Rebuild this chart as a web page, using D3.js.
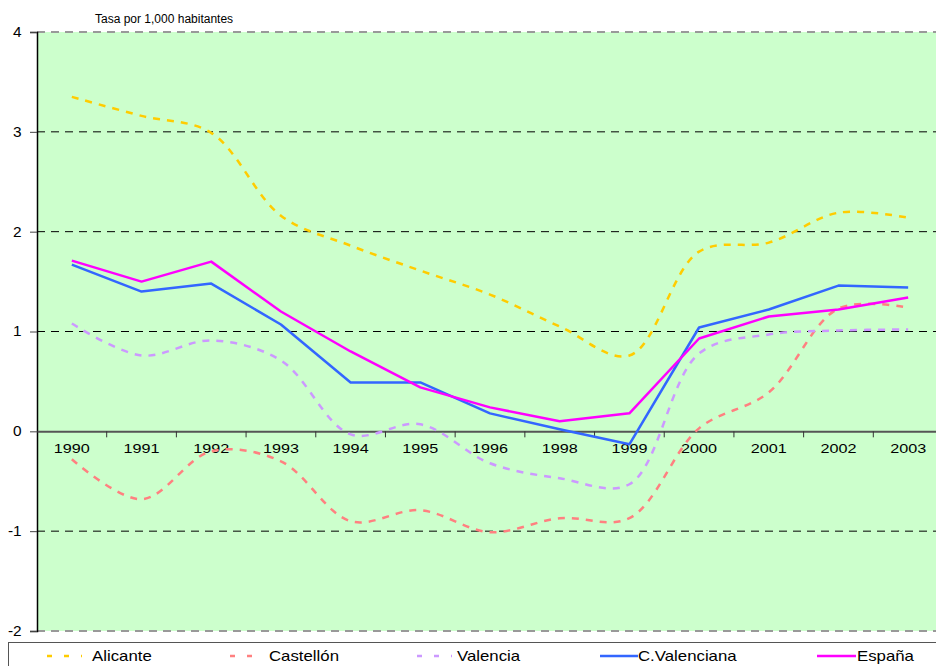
<!DOCTYPE html>
<html><head><meta charset="utf-8">
<script src="https://cdn.jsdelivr.net/npm/d3@7/dist/d3.min.js"></script>
<style>body{margin:0;background:#fff;}svg{display:block;font-family:"Liberation Sans",Arial,sans-serif;}</style>
</head><body>
<svg id="c" width="936" height="666"></svg>
<script>
const years = ["1990","1991","1992","1993","1994","1995","1996","1998","1999","2000","2001","2002","2003"];
const alicante = [3.35,3.16,2.99,2.16,1.86,1.61,1.37,1.05,0.76,1.80,1.89,2.19,2.14];
const castellon = [-0.28,-0.68,-0.20,-0.30,-0.90,-0.79,-1.01,-0.87,-0.87,0.03,0.39,1.23,1.24];
const valencia = [1.08,0.76,0.91,0.71,-0.03,0.07,-0.32,-0.47,-0.53,0.78,0.97,1.01,1.02];
const cvalenciana = [1.67,1.40,1.48,1.07,0.49,0.49,0.18,0.02,-0.13,1.04,1.22,1.46,1.44];
const espana = [1.71,1.50,1.70,1.20,0.80,0.44,0.24,0.10,0.18,0.93,1.15,1.22,1.34];
const yTicks = [-2,-1,0,1,2,3,4];
const seriesNames = ["Alicante","Castellón","Valencia","C.Valenciana","España"];
const title = "Tasa por 1,000 habitantes";

const series = [
  {name:seriesNames[0], values:alicante, color:"#FFCC00", dash:"7,7", smooth:true},
  {name:seriesNames[1], values:castellon, color:"#FF8080", dash:"7,7", smooth:true},
  {name:seriesNames[2], values:valencia, color:"#CC99FF", dash:"7,7", smooth:true},
  {name:seriesNames[3], values:cvalenciana, color:"#3366FF", dash:null, smooth:false},
  {name:seriesNames[4], values:espana, color:"#FF00FF", dash:null, smooth:false}
];

const svg = d3.select("#c");
const L = 37, R = 943, T = 32, B = 631;
const x = d3.scaleBand().domain(years).range([L, R]).padding(0);
const y = d3.scaleLinear().domain([-2,4]).range([B, T]);
const FONT = '"Liberation Sans",Arial,sans-serif';

svg.append("rect").attr("x", L).attr("y", T).attr("width", 936 - L).attr("height", B - T).attr("fill", "#CCFFCC");

// gridlines
yTicks.forEach(v => {
  if (v === 0) return;
  const edge = (v === 4 || v === -2);
  svg.append("line").attr("x1", L).attr("x2", 936).attr("y1", y(v)).attr("y2", y(v))
    .attr("stroke", edge ? "#999" : "#000").attr("stroke-width", edge ? 2 : 1)
    .attr("stroke-dasharray", "8,6");
});

// y axis
const yAxis = svg.append("g").attr("transform", `translate(${L},0)`)
  .call(d3.axisLeft(y).tickValues(yTicks).tickSize(7).tickFormat(d => String(d)));
yAxis.select(".domain").attr("stroke", "#000").attr("stroke-width", 1.5);
yAxis.selectAll(".tick line").attr("stroke", "#444");
yAxis.selectAll("text").attr("font-size", 14).attr("fill", "#000")
  .attr("font-family", FONT).attr("x", -14).attr("transform", "scale(1.1,1)");

// zero axis with ticks
const xAxis = svg.append("g").attr("transform", `translate(0,${y(0)})`)
  .call(d3.axisBottom(x).tickSize(0).tickPadding(13));
xAxis.select(".domain").attr("stroke", "#555").attr("stroke-width", 2);
xAxis.selectAll("text").attr("font-size", 12).attr("fill", "#000")
  .attr("font-family", FONT).attr("transform", "scale(1.35,1)");
years.slice(1).forEach(c => {
  svg.append("line").attr("x1", x(c)).attr("x2", x(c)).attr("y1", y(0)).attr("y2", y(0) + 6)
    .attr("stroke", "#333").attr("stroke-width", 1);
});

// lines
series.forEach(s => {
  const line = d3.line()
    .x((d, i) => x(years[i]) + x.bandwidth() / 2)
    .y(d => y(d))
    .curve(s.smooth ? d3.curveCatmullRom.alpha(0.5) : d3.curveLinear);
  const p = svg.append("path").datum(s.values).attr("d", line)
    .attr("fill", "none").attr("stroke", s.color).attr("stroke-width", 2.5)
    .attr("stroke-linejoin", "round");
  if (s.dash) p.attr("stroke-dasharray", s.dash);
});

// title
svg.append("text").attr("x", 95).attr("y", 23).attr("font-size", 12).attr("fill", "#000")
  .attr("font-family", FONT).text(title);

// legend
svg.append("rect").attr("x", 8.5).attr("y", 642.5).attr("width", 940).attr("height", 40)
  .attr("fill", "#fff").attr("stroke", "#555").attr("stroke-width", 1);
const legLine = [[47,82],[230,264],[417,452],[600,638],[817,856]];
const legText = [92, 269, 457, 638, 857];
series.forEach((s, i) => {
  const g = svg.append("g");
  g.append("line").attr("x1", legLine[i][0]).attr("x2", legLine[i][1]).attr("y1", 656).attr("y2", 656)
    .attr("stroke", s.color).attr("stroke-width", 2.5)
    .attr("stroke-dasharray", s.dash ? "5,12" : null);
  g.append("text").attr("transform", `translate(${legText[i]},661) scale(1.2,1)`)
    .attr("font-size", 14).attr("font-family", FONT).attr("fill", "#000").text(s.name);
});
</script>
</body></html>
